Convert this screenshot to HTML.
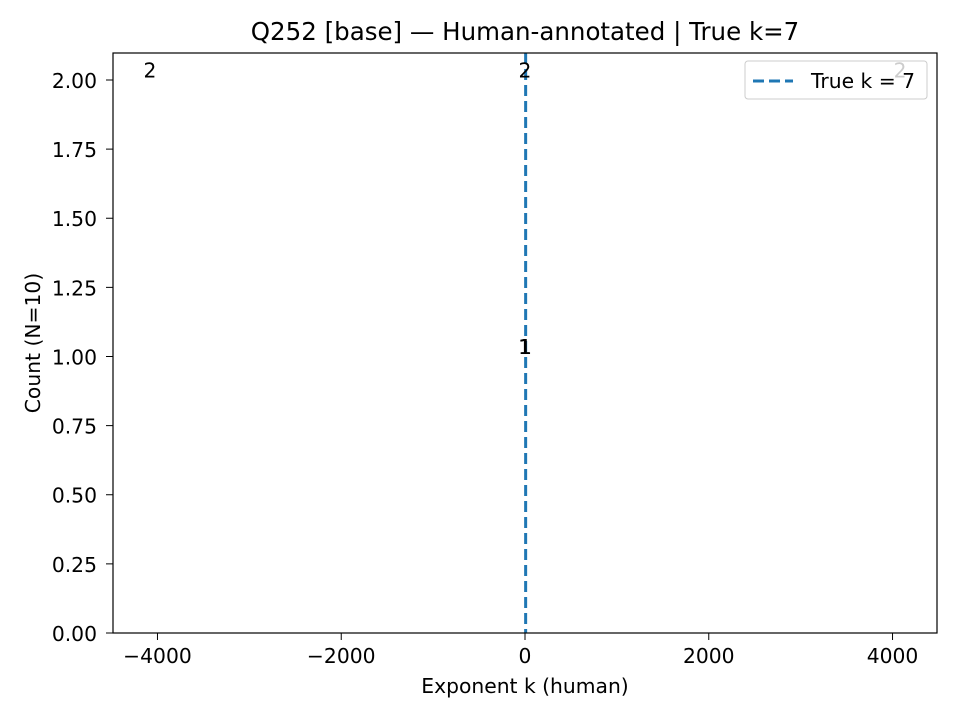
<!DOCTYPE html>
<html><head><meta charset="utf-8"><style>
body{margin:0;background:#fff}
svg text{font-family:"DejaVu Sans","Liberation Sans",sans-serif;fill:#000}
</style></head><body>
<svg width="960" height="720" id="chart">
<rect width="960" height="720" fill="#fff"/>
<text x="525" y="40" font-size="24.5" text-anchor="middle">Q252 [base] — Human-annotated | True k=7</text>
<g id="xticks"></g><g id="yticks"></g><g id="marks"></g>
<rect x="113" y="53" width="824" height="580" fill="none" stroke="#000" stroke-width="1.2"/>
<text x="525" y="693" font-size="20.3" text-anchor="middle">Exponent k (human)</text>
<text transform="translate(40,343) rotate(-90)" font-size="20.3" text-anchor="middle">Count (N=10)</text>
<g>
<rect x="745" y="61" width="182" height="38" rx="3" fill="#fff" fill-opacity="0.8" stroke="#ccc"/>
<line x1="753" y1="81" x2="793" y2="81" stroke="#1f77b4" stroke-width="3" stroke-dasharray="11,5"/>
<text x="811" y="88" font-size="20.3">True k = 7</text>
</g>
</svg>
<script>
const binCenters=[-4082,-5,0,5,4082];
const binCounts=[2,1,2,1,2];
const xTicks=[-4000,-2000,0,2000,4000];
const yTicks=[0,0.25,0.5,0.75,1.0,1.25,1.5,1.75,2.0];
const trueK=7;
const NS="http://www.w3.org/2000/svg";
const X0=113,X1=937,Y0=633,Y1=53,XMIN=-4484,XMAX=4484,YMAX=2.0976;
const xs=v=>X0+(v-XMIN)/(XMAX-XMIN)*(X1-X0);
const ys=v=>Y0-v/YMAX*(Y0-Y1);
function mk(tag,at,parent){const e=document.createElementNS(NS,tag);for(const k in at)e.setAttribute(k,at[k]);document.getElementById(parent).appendChild(e);return e;}
xTicks.forEach(t=>{const x=xs(t);
const l=mk('line',{x1:x,x2:x,y1:Y0,y2:Y0+7,stroke:'#000'},'xticks');


const tx=mk('text',{x:x,y:Y0+30,'font-size':'20.3','text-anchor':'middle'},'xticks');
tx.textContent=(t<0?'\u2212'+(-t):String(t));

});
yTicks.forEach(t=>{const y=ys(t);
const l=mk('line',{x1:X0-7,x2:X0,y1:y,y2:y,stroke:'#000'},'yticks');


const tx=mk('text',{x:X0-16,y:y+8,'font-size':'20.3','text-anchor':'end'},'yticks');
tx.textContent=t.toFixed(2);

});
const kl=mk('line',{x1:xs(trueK),x2:xs(trueK),y1:Y1,y2:Y0,stroke:'#1f77b4','stroke-width':3,'stroke-dasharray':'11,5'},'marks');


binCenters.forEach((c,i)=>{
const t=mk('text',{x:xs(c),y:ys(binCounts[i])-2.5,'font-size':'20.3','text-anchor':'middle'},'marks');
t.textContent=binCounts[i];

});
</script>
</body></html>
